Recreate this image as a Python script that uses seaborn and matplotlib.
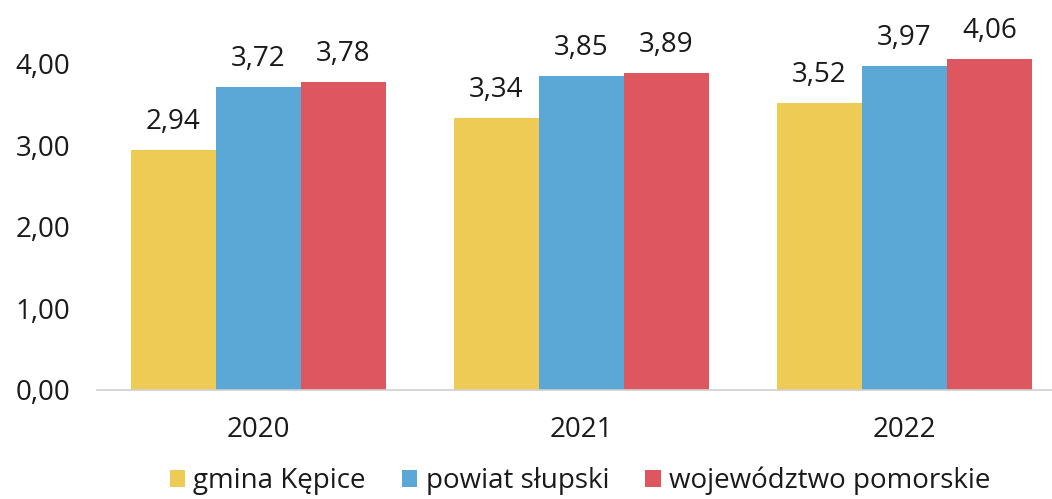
import matplotlib
matplotlib.use("Agg")
import matplotlib.pyplot as plt
import seaborn as sns
import pandas as pd

years = ["2020", "2021", "2022"]
series = ["gmina Kępice", "powiat słupski", "województwo pomorskie"]
gmina = [2.94, 3.34, 3.52]
powiat = [3.72, 3.85, 3.97]
wojew = [3.78, 3.89, 4.06]
yticks = [0, 1, 2, 3, 4]
colors = ["#EDCB55", "#5BA7D5", "#DE5660"]

rows = []
for name, vals in zip(series, [gmina, powiat, wojew]):
    for y, v in zip(years, vals):
        rows.append({"rok": y, "seria": name, "wartosc": v})
df = pd.DataFrame(rows)

sns.set_theme(style="white")
plt.rcParams["font.family"] = ["Open Sans", "DejaVu Sans"]

fig = plt.figure(figsize=(10.52, 4.99), dpi=100)
ax = fig.add_axes([97/1052, 1-390/499, (1052-97)/1052, (390-23)/499])
sns.barplot(data=df, x="rok", y="wartosc", hue="seria", palette=colors,
            width=0.79, saturation=1, ax=ax, errorbar=None, legend=True,
            linewidth=0, edgecolor="none")

for cont in ax.containers:
    labels = [f"{v:.2f}".replace(".", ",") for v in cont.datavalues]
    ax.bar_label(cont, labels=labels, padding=10, fontsize=20, color="#1a1a1a")

ax.set_xlim(-0.5, 2.457)
ax.set_ylim(0, 4.5)
ax.set_yticks(yticks)
ax.set_yticklabels([f"{t:.2f}".replace(".", ",") for t in yticks])
ax.tick_params(axis="y", labelsize=20, colors="#1a1a1a", pad=19, length=0)
ax.tick_params(axis="x", labelsize=20, colors="#1a1a1a", pad=19, length=0)
ax.set_xlabel("")
ax.set_ylabel("")
for s in ["top", "right", "left"]:
    ax.spines[s].set_visible(False)
ax.spines["bottom"].set_color("#d0d0d0")
ax.spines["bottom"].set_linewidth(1.2)

handles, labs = ax.get_legend_handles_labels()
ax.legend(handles, labs, loc="center", bbox_to_anchor=(580/1052, 1-481/499),
          bbox_transform=fig.transFigure, ncol=3, frameon=False, fontsize=20,
          handlelength=0.55, handleheight=0.55, handletextpad=0.3, columnspacing=1.3,
          labelcolor="#1a1a1a")

fig.savefig("out.png", dpi=100)
